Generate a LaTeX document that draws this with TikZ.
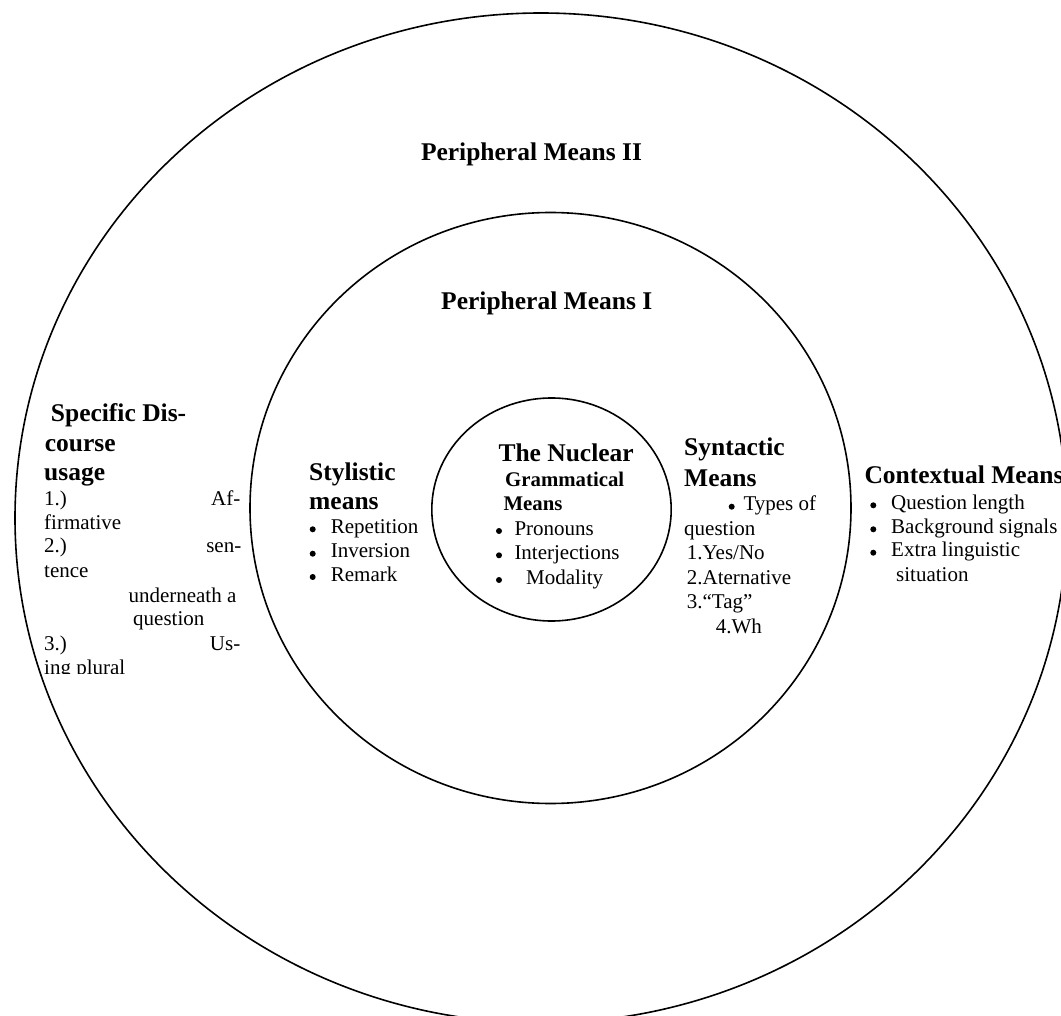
\documentclass[tikz,border=0pt]{standalone}
\usepackage{fontspec}
\setmainfont{Liberation Serif}
\begin{document}
\begin{tikzpicture}[x=1pt,y=-1pt,
  ring/.style={line width=1.6pt},
  dot/.style={fill=black},
  txt/.style={anchor=base west, inner sep=0pt, font=\fontsize{21}{24}\selectfont},
  txtr/.style={txt, anchor=base east},
  head/.style={anchor=base west, inner sep=0pt, font=\fontsize{25.5}{30}\selectfont\bfseries},
  subhead/.style={anchor=base west, inner sep=0pt, font=\fontsize{20.8}{24}\selectfont\bfseries}]
\useasboundingbox (0,0) rectangle (1061,1016);
\clip (0,0) rectangle (1061,1016);

% three nested rings
\draw[ring] (541,518) ellipse [x radius=526, y radius=505];
\draw[ring] (550.5,508) ellipse [x radius=300.5, y radius=295.5];
\draw[ring] (551.5,509.5) ellipse [x radius=119.7, y radius=111.5];

% ring titles
\node[head] (pm2) at (420.8,160.7) {Peripheral Means II};
\node[head] (pm1) at (441,309.8) {Peripheral Means I};

% nucleus
\node[head]    (nucA) at (498.3,461.7) {The Nuclear};
\node[subhead] (nucB) at (505,486.7) {Grammatical};
\node[subhead] (nucC) at (503.3,510.7) {Means};
\node[txt] (nuc1) at (514.3,535)   {Pronouns};
\node[txt] (nuc2) at (514.3,559.3) {Interjections};
\node[txt] (nuc3) at (526,584)     {Modality};
\foreach \y in {531,555.3,580} \fill[dot] (499,\y) circle (3pt);

% stylistic means
\node[head] (styA) at (309,480)   {Stylistic};
\node[head] (styB) at (309,509.3) {means};
\node[txt] (sty1) at (330.7,533.3) {Repetition};
\node[txt] (sty2) at (330.7,557.7) {Inversion};
\node[txt] (sty3) at (330.7,581)   {Remark};
\foreach \y in {529.3,553.7,577} \fill[dot] (312.7,\y) circle (3pt);

% syntactic means
\node[head] (synA) at (684,455)   {Syntactic};
\node[head] (synB) at (684,486.7) {Means};
\node[txt] (syn1) at (743.3,510.7) {Types of};
\fill[dot] (731.7,506.7) circle (3pt);
\node[txt] (syn2) at (684,535)     {question};
\node[txt] (syn3) at (686.7,559.3) {1.Yes/No};
\node[txt] (syn4) at (686.7,584)   {2.Aternative};
\node[txt] (syn5) at (686.7,608.3) {3.“Tag”};
\node[txt] (syn6) at (715.7,633.3) {4.Wh};

% contextual means
\node[head] (ctxA) at (864.3,483.3) {Contextual Means};
\node[txt] (ctx1) at (891,509.3) {Question length};
\node[txt] (ctx2) at (891,533.3) {Background signals};
\node[txt] (ctx3) at (891,556.7) {Extra linguistic};
\node[txt] (ctx4) at (896,581.7) {situation};
\foreach \y in {505.3,529.3,552.7} \fill[dot] (873.3,\y) circle (3pt);

% specific discourse usage (text box cut off at its lower edge)
\begin{scope}
\clip (30,380) rectangle (260,673);
\node[head] (sdA) at (50.7,421)  {Specific Dis-};
\node[head] (sdB) at (44.7,451.7) {course};
\node[head] (sdC) at (44,480.7)  {usage};
\node[txt]  (sd1a) at (44,505)   {1.)};
\node[txtr] (sd1b) at (240.5,505) {Af-};
\node[txt]  (sd2)  at (44,529)   {firmative};
\node[txt]  (sd3a) at (44,552.7) {2.)};
\node[txtr] (sd3b) at (241.5,552.7) {sen-};
\node[txt]  (sd4)  at (44,577.7) {tence};
\node[txt]  (sd5)  at (128.3,602.7) {underneath a};
\node[txt]  (sd6)  at (133,625.7) {question};
\node[txt]  (sd7a) at (44,650)   {3.)};
\node[txtr] (sd7b) at (240.5,650) {Us-};
\node[txt]  (sd8)  at (44,674.3) {ing plural};
\end{scope}
\end{tikzpicture}
\end{document}
